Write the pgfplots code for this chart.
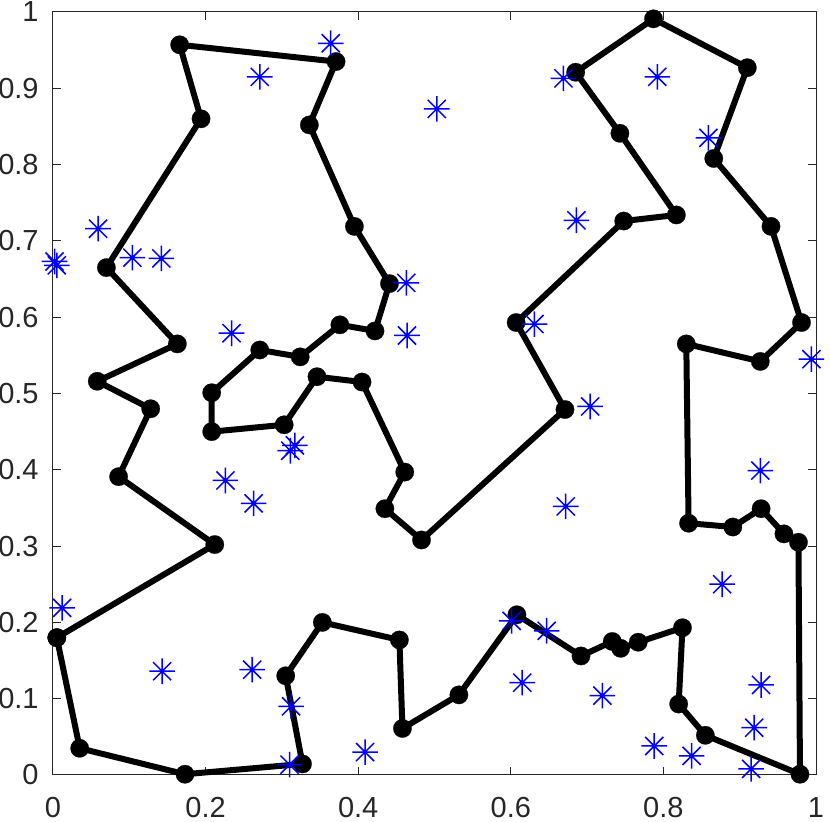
\documentclass[border=0pt]{standalone}
\usepackage{fontspec}
\setmainfont{Liberation Sans}
\usepackage{pgfplots}
\pgfplotsset{compat=1.18}
\definecolor{axgray}{rgb}{0.15,0.15,0.15}
\pgfdeclareplotmark{mstar}{%
  \pgfpathmoveto{\pgfqpoint{-\pgfplotmarksize}{0pt}}\pgfpathlineto{\pgfqpoint{\pgfplotmarksize}{0pt}}%
  \pgfpathmoveto{\pgfqpoint{0pt}{-\pgfplotmarksize}}\pgfpathlineto{\pgfqpoint{0pt}{\pgfplotmarksize}}%
  \pgfpathmoveto{\pgfqpoint{-0.707\pgfplotmarksize}{-0.707\pgfplotmarksize}}\pgfpathlineto{\pgfqpoint{0.707\pgfplotmarksize}{0.707\pgfplotmarksize}}%
  \pgfpathmoveto{\pgfqpoint{-0.707\pgfplotmarksize}{0.707\pgfplotmarksize}}\pgfpathlineto{\pgfqpoint{0.707\pgfplotmarksize}{-0.707\pgfplotmarksize}}%
  \pgfusepathqstroke}
\begin{document}
\begin{tikzpicture}
\begin{axis}[
  scale only axis,
  width=381.5pt, height=381.5pt,
  xmin=0, xmax=1, ymin=0, ymax=1,
  xtick={0,0.2,0.4,0.6,0.8,1},
  ytick={0,0.1,0.2,0.3,0.4,0.5,0.6,0.7,0.8,0.9,1},
  tick align=inside,
  major tick length=3.8pt,
  axis line style={axgray, line width=0.5pt},
  tick style={axgray, line width=0.5pt},
  every tick label/.append style={font=\fontsize{14.5}{17}\selectfont, text=axgray, inner sep=0pt},
  /pgf/number format/assume math mode=true,
  /pgf/number format/fixed,
  /pgf/number format/precision=1,
  yticklabel style={xshift=-7pt},
  xticklabel style={yshift=-11pt},
  clip=false,
]
\addplot[black, line width=3pt, mark=*, mark size=4.6pt, mark options={fill=black, draw=black, line width=0.1pt}] table {
x y
0.005 0.180
0.035 0.035
0.173 0.001
0.327 0.0145
0.305 0.130
0.353 0.200
0.454 0.177
0.458 0.061
0.532 0.105
0.608 0.210
0.692 0.156
0.733 0.175
0.744 0.166
0.767 0.174
0.825 0.193
0.820 0.093
0.855 0.052
0.979 0.001
0.977 0.305
0.958 0.316
0.928 0.349
0.891 0.325
0.833 0.330
0.830 0.565
0.927 0.542
0.981 0.593
0.941 0.719
0.866 0.808
0.910 0.927
0.787 0.991
0.685 0.921
0.743 0.841
0.817 0.734
0.748 0.726
0.607 0.593
0.671 0.479
0.483 0.308
0.435 0.349
0.461 0.397
0.405 0.515
0.346 0.522
0.303 0.459
0.208 0.450
0.208 0.501
0.271 0.557
0.324 0.548
0.376 0.590
0.422 0.582
0.441 0.644
0.395 0.719
0.336 0.852
0.371 0.935
0.166 0.957
0.194 0.860
0.070 0.665
0.163 0.565
0.058 0.516
0.128 0.480
0.086 0.391
0.212 0.302
0.005 0.180
};
\addplot[only marks, blue, mark=mstar, mark size=6.4pt, mark options={line width=0.75pt}] table {
x y
0.364 0.959
0.271 0.915
0.059 0.716
0.002 0.673
0.005 0.668
0.104 0.678
0.142 0.677
0.463 0.645
0.464 0.576
0.234 0.579
0.503 0.873
0.669 0.913
0.792 0.915
0.859 0.835
0.686 0.727
0.631 0.591
0.994 0.545
0.317 0.432
0.311 0.425
0.226 0.386
0.263 0.356
0.012 0.219
0.143 0.136
0.261 0.138
0.312 0.090
0.310 0.0135
0.409 0.030
0.704 0.483
0.927 0.399
0.672 0.352
0.877 0.250
0.601 0.202
0.647 0.189
0.615 0.121
0.720 0.104
0.928 0.118
0.919 0.062
0.788 0.038
0.837 0.025
0.915 0.008
};
\coordinate (O) at (rel axis cs:0,0);
\coordinate (T) at (rel axis cs:1,1);
\end{axis}
\pgfresetboundingbox
\path ([shift={(-26.5pt,-23.5pt)}]O) rectangle ([shift={(7pt,6pt)}]T);
\end{tikzpicture}
\end{document}
